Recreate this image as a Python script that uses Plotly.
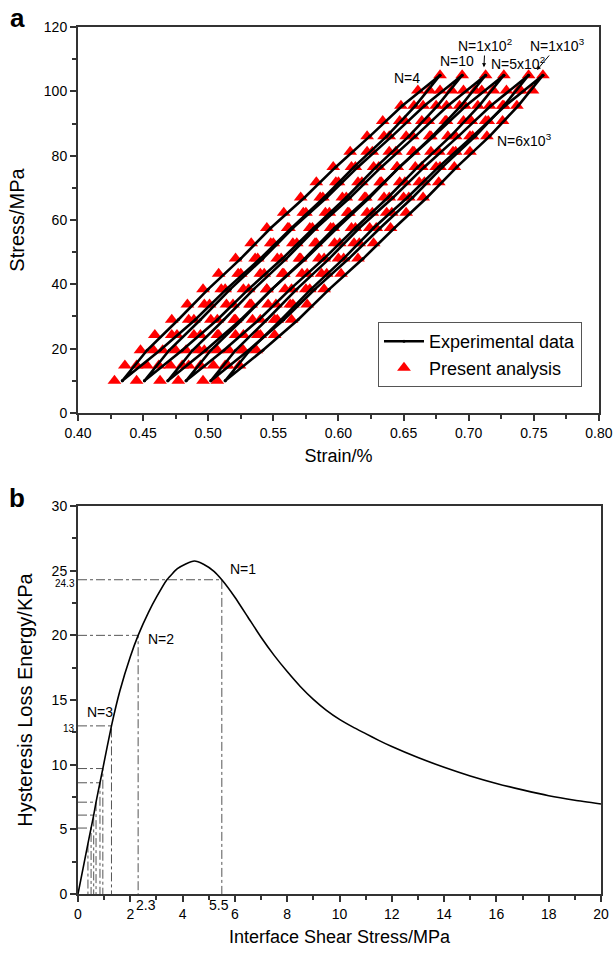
import plotly.graph_objects as go

# ---------------- Panel (a) data ----------------
stress_levels = [10.0, 14.75, 19.5, 24.25, 29.0, 33.75, 38.5, 43.25, 48.0, 52.75, 57.5,
                 62.25, 67.0, 71.75, 76.5, 81.25, 86.0, 90.75, 95.5, 100.25, 105.0]
exp_stress_levels = [10.0, 19.5, 29.0, 38.5, 48.0, 57.5, 67.0, 76.5, 86.0, 95.5, 105.0]

cycle_names = ["N=4", "N=10", "N=1x10<sup>2</sup>", "N=5x10<sup>2</sup>", "N=1x10<sup>3</sup>", "N=6x10<sup>3</sup>"]

# present analysis: left (upper) and right (lower) branches of each loop
ana_left = [
    [0.428, 0.436, 0.448, 0.459, 0.472, 0.484, 0.496, 0.508, 0.521, 0.533, 0.545, 0.558, 0.571, 0.583, 0.596, 0.609, 0.622, 0.634, 0.648, 0.661, 0.678],
    [0.445, 0.453, 0.465, 0.476, 0.489, 0.501, 0.513, 0.525, 0.538, 0.550, 0.562, 0.575, 0.588, 0.600, 0.613, 0.626, 0.639, 0.651, 0.665, 0.678, 0.695],
    [0.463, 0.471, 0.483, 0.494, 0.507, 0.519, 0.531, 0.543, 0.556, 0.568, 0.580, 0.593, 0.606, 0.618, 0.631, 0.644, 0.657, 0.669, 0.683, 0.696, 0.713],
    [0.477, 0.485, 0.497, 0.508, 0.521, 0.533, 0.545, 0.557, 0.570, 0.582, 0.594, 0.607, 0.620, 0.632, 0.645, 0.658, 0.671, 0.683, 0.697, 0.710, 0.727],
    [0.496, 0.504, 0.516, 0.527, 0.540, 0.552, 0.564, 0.576, 0.589, 0.601, 0.613, 0.626, 0.639, 0.651, 0.664, 0.677, 0.690, 0.702, 0.716, 0.729, 0.746],
    [0.507, 0.515, 0.527, 0.538, 0.551, 0.563, 0.575, 0.587, 0.600, 0.612, 0.624, 0.637, 0.650, 0.662, 0.675, 0.688, 0.701, 0.713, 0.727, 0.740, 0.757],
]
ana_right = [
    [0.428, 0.445, 0.458, 0.472, 0.485, 0.497, 0.510, 0.523, 0.536, 0.548, 0.561, 0.573, 0.586, 0.598, 0.610, 0.622, 0.635, 0.647, 0.658, 0.670, 0.678],
    [0.445, 0.462, 0.475, 0.489, 0.502, 0.514, 0.527, 0.540, 0.553, 0.565, 0.578, 0.590, 0.603, 0.615, 0.627, 0.639, 0.652, 0.664, 0.675, 0.687, 0.695],
    [0.463, 0.480, 0.493, 0.507, 0.520, 0.532, 0.545, 0.558, 0.571, 0.583, 0.596, 0.608, 0.621, 0.633, 0.645, 0.657, 0.670, 0.682, 0.693, 0.705, 0.713],
    [0.477, 0.494, 0.507, 0.521, 0.534, 0.546, 0.559, 0.572, 0.585, 0.597, 0.610, 0.622, 0.635, 0.647, 0.659, 0.671, 0.684, 0.696, 0.707, 0.719, 0.727],
    [0.496, 0.513, 0.526, 0.540, 0.553, 0.565, 0.578, 0.591, 0.604, 0.616, 0.629, 0.641, 0.654, 0.666, 0.678, 0.690, 0.703, 0.715, 0.726, 0.738, 0.746],
    [0.507, 0.524, 0.537, 0.551, 0.564, 0.576, 0.589, 0.602, 0.615, 0.627, 0.640, 0.652, 0.665, 0.677, 0.689, 0.701, 0.714, 0.726, 0.737, 0.749, 0.757],
]

# experimental data branches
exp_left = [
    [0.434, 0.453, 0.477, 0.500, 0.525, 0.548, 0.574, 0.598, 0.624, 0.649, 0.678],
    [0.451, 0.470, 0.494, 0.517, 0.542, 0.565, 0.591, 0.615, 0.641, 0.666, 0.695],
    [0.469, 0.488, 0.512, 0.535, 0.560, 0.583, 0.609, 0.633, 0.659, 0.684, 0.713],
    [0.483, 0.502, 0.526, 0.549, 0.574, 0.597, 0.623, 0.647, 0.673, 0.698, 0.727],
    [0.502, 0.521, 0.545, 0.568, 0.593, 0.616, 0.642, 0.666, 0.692, 0.717, 0.746],
    [0.513, 0.532, 0.556, 0.579, 0.604, 0.627, 0.653, 0.677, 0.703, 0.728, 0.757],
]
exp_right = [
    [0.434, 0.463, 0.490, 0.514, 0.540, 0.564, 0.589, 0.612, 0.637, 0.659, 0.678],
    [0.451, 0.480, 0.507, 0.531, 0.557, 0.581, 0.606, 0.629, 0.654, 0.676, 0.695],
    [0.469, 0.498, 0.525, 0.549, 0.575, 0.599, 0.624, 0.647, 0.672, 0.694, 0.713],
    [0.483, 0.512, 0.539, 0.563, 0.589, 0.613, 0.638, 0.661, 0.686, 0.708, 0.727],
    [0.502, 0.531, 0.558, 0.582, 0.608, 0.632, 0.657, 0.680, 0.705, 0.727, 0.746],
    [0.513, 0.542, 0.569, 0.593, 0.619, 0.643, 0.668, 0.691, 0.716, 0.738, 0.757],
]

# cycle label positions (strain, stress)
label_x = [0.653, 0.691, 0.7125, 0.738, 0.7685, 0.743]
label_y = [104.1, 109.5, 114.4, 108.9, 114.4, 84.9]
# arrow targets for the two arrowed labels (index: (strain, stress))
arrow_targets = {2: (0.7117, 107.5), 4: (0.7524, 106.6)}

strain_ticks = [0.40, 0.45, 0.50, 0.55, 0.60, 0.65, 0.70, 0.75, 0.80]
stress_ticks = [0, 20, 40, 60, 80, 100, 120]

# ---------------- Panel (b) data ----------------
shear_stress = [0, 0.38, 0.5, 0.6, 0.69, 0.84, 0.95, 1.28, 1.6, 2.0, 2.3, 2.7, 3.0, 3.4, 3.8, 4.1,
                4.45, 4.8, 5.2, 5.5, 6.0, 6.5, 7.0, 7.5, 8.0, 8.5, 9.0, 9.5, 10.0, 10.5, 11.0,
                11.5, 12.0, 13.0, 14.0, 15.0, 16.0, 17.0, 18.0, 19.0, 20.0]
loss_energy = [0, 3.9, 5.1, 6.1, 7.1, 8.6, 9.7, 13.0, 15.7, 18.35, 20.0, 21.8, 22.95, 24.3, 25.15, 25.5,
               25.75, 25.5, 24.95, 24.3, 22.95, 21.4, 19.85, 18.45, 17.2, 16.05, 15.05, 14.2, 13.5, 12.92, 12.4,
               11.88, 11.4, 10.55, 9.8, 9.13, 8.55, 8.05, 7.6, 7.25, 6.96]

mark_x = [5.5, 2.3, 1.28, 0.95, 0.84, 0.69, 0.6, 0.5]
mark_y = [24.3, 20.0, 13.0, 9.7, 8.6, 7.1, 6.1, 5.1]
vertical_only_x = [0.38]
vertical_only_y = [3.9]

shear_ticks = list(range(0, 21, 2))
energy_ticks = [0, 5, 10, 15, 20, 25, 30]

FONT = "Liberation Sans, Arial, sans-serif"

fig = go.Figure()

# Present analysis triangles
for k in range(len(ana_left)):
    xs = ana_left[k] + ana_right[k][::-1][1:-1]
    ys = stress_levels + stress_levels[::-1][1:-1]
    fig.add_trace(go.Scatter(
        x=xs, y=ys, mode="markers", xaxis="x", yaxis="y",
        marker=dict(symbol="triangle-up", size=12, color="#ff0000", line=dict(width=0)),
        name="Present analysis", legendgroup="ana", showlegend=(k == 0), legendrank=2))

# Experimental data lines
for k in range(len(exp_left)):
    xs = exp_left[k] + exp_right[k][::-1]
    ys = exp_stress_levels + exp_stress_levels[::-1]
    fig.add_trace(go.Scatter(
        x=xs, y=ys, mode="lines+markers", xaxis="x", yaxis="y",
        line=dict(color="black", width=2.6),
        marker=dict(symbol="circle", size=3, color="black"),
        name="Experimental data", legendgroup="exp", showlegend=(k == 0), legendrank=1))

# Panel (b) reference dash-dot lines
for mx, my in zip(mark_x, mark_y):
    fig.add_trace(go.Scatter(
        x=[0, mx, mx], y=[my, my, 0], mode="lines", xaxis="x2", yaxis="y2",
        line=dict(color="#555555", width=1, dash="dashdot"), showlegend=False, hoverinfo="skip"))
for mx, my in zip(vertical_only_x, vertical_only_y):
    fig.add_trace(go.Scatter(
        x=[mx, mx], y=[my, 0], mode="lines", xaxis="x2", yaxis="y2",
        line=dict(color="#555555", width=1, dash="dashdot"), showlegend=False, hoverinfo="skip"))

# Panel (b) curve
fig.add_trace(go.Scatter(
    x=shear_stress, y=loss_energy, mode="lines", xaxis="x2", yaxis="y2",
    line=dict(color="black", width=1.6, shape="spline", smoothing=0.5), showlegend=False))

axis_common = dict(
    showline=True, linecolor="#333333", linewidth=2, mirror=True,
    ticks="outside", ticklen=6, tickwidth=1.5, tickcolor="#333333",
    showgrid=False, zeroline=False, automargin=False,
    tickfont=dict(family=FONT, size=14, color="black"),
)
xtitle_font = dict(family=FONT, size=18, color="black")
ytitle_font = dict(family=FONT, size=20, color="black")

fig.update_layout(
    width=615, height=953,
    margin=dict(l=78, r=14, t=27, b=59),
    paper_bgcolor="white", plot_bgcolor="white",
    font=dict(family=FONT, color="black"),
    xaxis=dict(domain=[0, 0.996], range=[0.40, 0.80], tickvals=strain_ticks,
               ticktext=[f"{v:.2f}" for v in strain_ticks],
               minor=dict(ticks="outside", ticklen=4, tickcolor="#333333", dtick=0.025, tick0=0.4),
               title=dict(text="Strain/%", standoff=10, font=xtitle_font), anchor="y", **axis_common),
    yaxis=dict(domain=[0.5548, 1.0], range=[0, 120], tickvals=stress_ticks,
               minor=dict(ticks="outside", ticklen=4, tickcolor="#333333", dtick=10, tick0=0),
               title=dict(text="Stress/MPa", standoff=14, font=ytitle_font), anchor="x", **axis_common),
    xaxis2=dict(domain=[0, 1.0], range=[0, 20], tickvals=shear_ticks,
                minor=dict(ticks="outside", ticklen=4, tickcolor="#333333", dtick=1, tick0=0),
                title=dict(text="Interface Shear Stress/MPa", standoff=10, font=xtitle_font),
                anchor="y2", **axis_common),
    yaxis2=dict(domain=[0, 0.4475], range=[0, 30], tickvals=energy_ticks,
                minor=dict(ticks="outside", ticklen=4, tickcolor="#333333", dtick=2.5, tick0=0),
                title=dict(text="Hysteresis Loss Energy/KPa", standoff=14, font=ytitle_font),
                anchor="x2", **axis_common),
    legend=dict(x=0.5736, y=0.6597, xanchor="left", yanchor="top",
                bgcolor="white", bordercolor="#555555", borderwidth=1,
                font=dict(family=FONT, size=18, color="black"),
                tracegroupgap=0, itemwidth=40),
)

label_font = dict(family=FONT, size=14, color="black")
annotations = []
for k, (lx, ly, txt) in enumerate(zip(label_x, label_y, cycle_names)):
    if k in arrow_targets:
        px, py = arrow_targets[k]
        annotations.append(dict(x=px, y=py, xref="x", yref="y", text=txt, showarrow=True,
                                arrowhead=2, arrowsize=0.8, arrowwidth=1, arrowcolor="black",
                                ax=(lx - px) * 1302.5, ay=-(ly - py) * 3.217, font=label_font))
    else:
        annotations.append(dict(x=lx, y=ly, xref="x", yref="y", text=txt, showarrow=False,
                                font=label_font))

annotations += [
    dict(x=5.75, y=25.1, xref="x2", yref="y2", text="N=1", showarrow=False, xanchor="left", font=label_font),
    dict(x=2.6, y=19.7, xref="x2", yref="y2", text="N=2", showarrow=False, xanchor="left", font=label_font),
    dict(x=0.25, y=14.1, xref="x2", yref="y2", text="N=3", showarrow=False, xanchor="left", font=label_font),
    dict(x=0, y=24.3, xref="paper", yref="y2", text="24.3", showarrow=False, xanchor="right",
         yanchor="middle", xshift=-1, yshift=-4, font=dict(family=FONT, size=10, color="black")),
    dict(x=0, y=13.0, xref="paper", yref="y2", text="13", showarrow=False, xanchor="right",
         yanchor="middle", xshift=-1, yshift=-3, font=dict(family=FONT, size=10, color="black")),
    dict(x=2.6, y=0, xref="x2", yref="y2", text="2.3", showarrow=False, yanchor="top",
         yshift=-1, font=dict(family=FONT, size=14, color="black")),
    dict(x=5.4, y=0, xref="x2", yref="y2", text="5.5", showarrow=False, yanchor="top",
         yshift=-1, font=dict(family=FONT, size=14, color="black")),
    dict(x=0, y=1.0, xref="paper", yref="paper", text="<b>a</b>", showarrow=False,
         xanchor="center", yanchor="middle", xshift=-61, yshift=9,
         font=dict(family=FONT, size=26, color="black")),
    dict(x=0, y=0.4475, xref="paper", yref="paper", text="<b>b</b>", showarrow=False,
         xanchor="center", yanchor="middle", xshift=-61, yshift=8,
         font=dict(family=FONT, size=26, color="black")),
]
fig.update_layout(annotations=annotations)

fig.write_html(
    "out.html",
    config={"displayModeBar": False},
    post_script="document.body.style.margin='0px';document.body.style.overflow='hidden';",
)
